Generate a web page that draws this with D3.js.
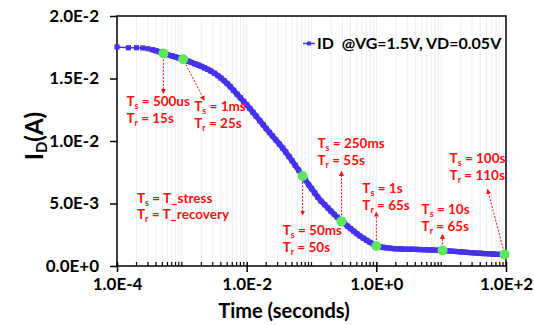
<!DOCTYPE html>
<html>
<head>
<meta charset="utf-8">
<script src="https://cdn.jsdelivr.net/npm/d3@7"></script>
<style>
  body { margin: 0; background: #fff; }
  text { font-family: Lato, "Open Sans", sans-serif; font-weight: bold; }
</style>
</head>
<body>
<svg id="chart" width="534" height="325"></svg>
<script>
// measured drain current vs. time (log scale)
const times = [
  1e-4, 1.5e-4, 2e-4, 2.5e-4, 3e-4, 3.5e-4, 4e-4, 4.5e-4, 5e-4, 5.5e-4, 6e-4, 7e-4, 8e-4, 9e-4,
  1e-3, 1.1e-3, 1.25e-3, 1.4e-3, 1.6e-3, 1.8e-3, 2e-3, 2.25e-3, 2.5e-3, 2.8e-3, 3.2e-3, 3.6e-3, 4e-3, 4.5e-3, 5e-3, 5.6e-3, 6.3e-3, 7.1e-3, 8e-3, 9e-3,
  1e-2, 1.12e-2, 1.25e-2, 1.4e-2, 1.6e-2, 1.8e-2, 2e-2, 2.25e-2, 2.5e-2, 2.8e-2, 3.2e-2, 3.6e-2, 4e-2, 4.5e-2, 5e-2, 5.6e-2, 6.3e-2, 7.1e-2, 8e-2, 9e-2,
  0.1, 0.112, 0.125, 0.14, 0.16, 0.18, 0.2, 0.225, 0.25, 0.28, 0.32, 0.36, 0.4, 0.45, 0.5, 0.56, 0.63, 0.71, 0.8, 0.9,
  1, 1.12, 1.25, 1.4, 1.6, 1.8, 2, 2.25, 2.5, 2.8, 3.2, 3.6, 4, 4.5, 5, 5.6, 6.3, 7.1, 8, 9,
  10, 11.2, 12.5, 14, 16, 18, 20, 22.5, 25, 28, 32, 36, 40, 45, 50, 56, 63, 71, 80, 90, 100
];
const currents = [
  0.01752, 0.01746, 0.01746, 0.01744, 0.01738, 0.01730, 0.01722, 0.01713, 0.01703, 0.01697, 0.01691, 0.01681, 0.01672, 0.01664,
  0.01657, 0.01650, 0.01639, 0.01629, 0.01617, 0.01607, 0.01597, 0.01585, 0.01573, 0.01560, 0.01542, 0.01523, 0.01504, 0.01482, 0.01460, 0.01434, 0.01405, 0.01375, 0.01345, 0.01316,
  0.01290, 0.01260, 0.01230, 0.01199, 0.01162, 0.01130, 0.01100, 0.01068, 0.01040, 0.01010, 0.00975, 0.00943, 0.00912, 0.00876, 0.00843, 0.00806, 0.00768, 0.00729, 0.00690, 0.00652,
  0.00620, 0.00585, 0.00551, 0.00520, 0.00490, 0.00463, 0.00438, 0.00412, 0.00390, 0.00367, 0.00341, 0.00319, 0.00299, 0.00278, 0.00259, 0.00240, 0.00222, 0.00205, 0.00189, 0.00174,
  0.00162, 0.00155, 0.00150, 0.00146, 0.00143, 0.00140, 0.00138, 0.00137, 0.00136, 0.00135, 0.00134, 0.00134, 0.00133, 0.00132, 0.00131, 0.00130, 0.00129, 0.00128, 0.00127, 0.00126,
  0.00125, 0.00123, 0.00121, 0.00119, 0.00117, 0.00115, 0.00113, 0.00111, 0.00109, 0.00107, 0.00105, 0.00103, 0.00102, 0.00100, 0.00099, 0.00097, 0.00096, 0.00094, 0.00093, 0.00092, 0.00091
];

// highlighted stress/recovery points
const markTimes = [5.2e-4, 1.05e-3, 7.3e-2, 0.29, 1.0, 10.5, 95];
const markCurrents = [0.01701, 0.01654, 0.0072, 0.00357, 0.0016, 0.00125, 0.00093];
const stressLabels = ["500us", "1ms", "50ms", "250ms", "1s", "10s", "100s"];
const recoveryLabels = ["15s", "25s", "50s", "55s", "65s", "65s", "110s"];

const xTickValues = [1e-4, 1e-2, 1, 100];
const xTickLabels = ["1.0E-4", "1.0E-2", "1.0E+0", "1.0E+2"];
const yTickValues = [0, 0.005, 0.01, 0.015, 0.02];
const yTickLabels = ["0.0E+0", "5.0E-3", "1.0E-2", "1.5E-2", "2.0E-2"];

const svg = d3.select("#chart");
const margin = { top: 16, right: 28, bottom: 59, left: 117 };
const width = +svg.attr("width"), height = +svg.attr("height");
const plotW = width - margin.left - margin.right;
const plotH = height - margin.top - margin.bottom;

const blue = "#4433ee", green = "#5ce65c", red = "#ff1010";

const x = d3.scaleLog().domain([1e-4, 100]).range([0, plotW]);
const y = d3.scaleLinear().domain([0, 0.02]).range([plotH, 0]);

const g = svg.append("g").attr("transform", `translate(${margin.left},${margin.top})`);

// minor log ticks & light grid
const minor = [];
for (let e = -4; e < 2; e++) {
  for (let m = 1; m <= 9; m++) {
    const v = m * Math.pow(10, e);
    if (!xTickValues.includes(v)) minor.push(v);
  }
}
g.append("g").selectAll("line").data(minor.concat(xTickValues.slice(1, -1))).join("line")
  .attr("x1", d => x(d)).attr("x2", d => x(d))
  .attr("y1", 0).attr("y2", plotH)
  .attr("stroke", "#eeeeee").attr("stroke-width", 1);

// frame
g.append("rect").attr("width", plotW).attr("height", plotH)
  .attr("fill", "none").attr("stroke", "#000").attr("stroke-width", 1.5);

// x axis
const xAxis = g.append("g").attr("transform", `translate(0,${plotH})`)
  .call(d3.axisBottom(x).tickValues(xTickValues)
    .tickFormat((d, i) => xTickLabels[i]).tickSize(6).tickPadding(6));
xAxis.select(".domain").remove();
xAxis.selectAll(".tick line").attr("y1", -4).attr("stroke-width", 1.5);
xAxis.selectAll("text").style("font-size", "17px").attr("fill", "#000");
g.append("g").selectAll("line").data(minor).join("line")
  .attr("x1", d => x(d)).attr("x2", d => x(d))
  .attr("y1", plotH - 4).attr("y2", plotH)
  .attr("stroke", "#000").attr("stroke-width", 1.2);

// y axis
const yAxis = g.append("g")
  .call(d3.axisLeft(y).tickValues(yTickValues)
    .tickFormat((d, i) => yTickLabels[i]).tickSize(7).tickPadding(11));
yAxis.select(".domain").remove();
yAxis.selectAll(".tick line").attr("stroke-width", 1.5);
yAxis.selectAll("text").style("font-size", "17px").attr("fill", "#000");

// axis titles
svg.append("text")
  .attr("x", 284).attr("y", 318)
  .attr("text-anchor", "middle")
  .style("font-size", "20px")
  .text("Time (seconds)");

const yt = svg.append("text")
  .attr("transform", "translate(43,136) rotate(-90)")
  .attr("text-anchor", "middle")
  .style("font-size", "24px");
yt.append("tspan").text("I");
yt.append("tspan").attr("baseline-shift", "-25%").style("font-size", "15px").text("D");
yt.append("tspan").text("(A)");

// series: thin connector where samples are sparse, then dense band
const pts = times.map((t, i) => ({ t, v: currents[i] }));
const line = d3.line().x(d => x(d.t)).y(d => y(d.v));
g.append("path").datum(pts.slice(0, 6))
  .attr("fill", "none").attr("stroke", blue).attr("stroke-width", 1.5)
  .attr("d", line);
g.append("path").datum(pts.slice(5))
  .attr("fill", "none").attr("stroke", blue).attr("stroke-width", 5.5)
  .attr("stroke-linejoin", "round")
  .attr("d", line);
g.append("g").selectAll("rect").data(pts).join("rect")
  .attr("x", d => x(d.t) - 2.6).attr("y", d => y(d.v) - 2.6)
  .attr("width", 5.2).attr("height", 5.2)
  .attr("fill", blue);

// legend
const lg = svg.append("g").attr("transform", "translate(303,43.5)");
lg.append("line").attr("x1", 0).attr("x2", 12).attr("stroke", blue).attr("stroke-width", 1.5);
lg.append("rect").attr("x", 4).attr("y", -2).attr("width", 4).attr("height", 4).attr("fill", blue);
lg.append("text").attr("x", 14).attr("y", 5.5)
  .style("font-size", "16px")
  .attr("xml:space", "preserve")
  .text("ID  @VG=1.5V, VD=0.05V");

// annotations: arrow end and label offsets from the marked point (px)
const annot = [
  { ax: 0, ay: 40, lx: -37, ly: 53 },
  { ax: 21, ay: 41, lx: 11, ly: 52 },
  { ax: 0, ay: 39, lx: -20, ly: 59 },
  { ax: 0, ay: -50, lx: -24, ly: -73 },
  { ax: 0, ay: -34, lx: -14, ly: -53 },
  { ax: 0, ay: -16, lx: -21, ly: -36 },
  { ax: -17, ay: -65, lx: -55, ly: -91 }
];

const defs = svg.append("defs");
defs.append("marker").attr("id", "ah")
  .attr("viewBox", "0 0 10 10").attr("refX", 9).attr("refY", 5)
  .attr("markerWidth", 5).attr("markerHeight", 5)
  .attr("markerUnits", "userSpaceOnUse")
  .attr("orient", "auto")
  .append("path").attr("d", "M0,0L10,5L0,10Z").attr("fill", red);

const ann = g.append("g");
markTimes.forEach((t, i) => {
  const px = x(t), py = y(markCurrents[i]);
  const a = annot[i];
  const len = Math.hypot(a.ax, a.ay);
  const sx = px + a.ax / len * 6, sy = py + a.ay / len * 6;
  ann.append("line")
    .attr("x1", sx).attr("y1", sy)
    .attr("x2", px + a.ax).attr("y2", py + a.ay)
    .attr("stroke", red).attr("stroke-width", 1)
    .attr("stroke-dasharray", "2,1.5")
    .attr("marker-end", "url(#ah)");

  const lab = ann.append("text").attr("fill", red).style("font-size", "13.5px");
  const l1 = lab.append("tspan").attr("x", px + a.lx).attr("y", py + a.ly);
  l1.append("tspan").text("T");
  l1.append("tspan").attr("dy", 3).style("font-size", "9px").text("s");
  l1.append("tspan").attr("dy", -3).text(" = " + stressLabels[i]);
  const l2 = lab.append("tspan").attr("x", px + a.lx).attr("y", py + a.ly + 16.5);
  l2.append("tspan").text("T");
  l2.append("tspan").attr("dy", 3).style("font-size", "9px").text("r");
  l2.append("tspan").attr("dy", -3).text(" = " + recoveryLabels[i]);
});

// green highlight points
g.append("g").selectAll("circle").data(markTimes).join("circle")
  .attr("cx", d => x(d)).attr("cy", (d, i) => y(markCurrents[i]))
  .attr("r", 5).attr("fill", green);

// definitions note
const note = svg.append("text").attr("fill", red).style("font-size", "13.5px");
const n1 = note.append("tspan").attr("x", 137).attr("y", 203);
n1.append("tspan").text("T");
n1.append("tspan").attr("dy", 3).style("font-size", "9px").text("s");
n1.append("tspan").attr("dy", -3).text(" = T_stress");
const n2 = note.append("tspan").attr("x", 137).attr("y", 219);
n2.append("tspan").text("T");
n2.append("tspan").attr("dy", 3).style("font-size", "9px").text("r");
n2.append("tspan").attr("dy", -3).text(" = T_recovery");
</script>
</body>
</html>
